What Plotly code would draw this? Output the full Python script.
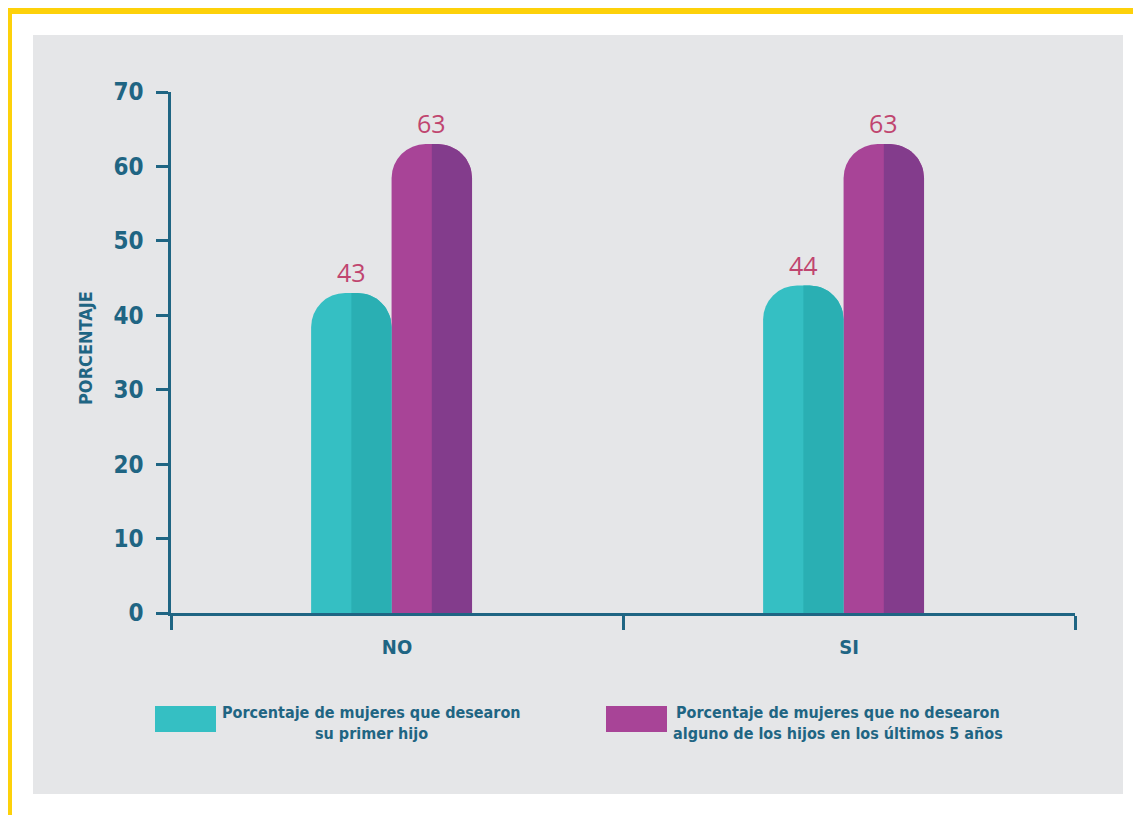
import numpy as np
import plotly.graph_objects as go

# ---- data ----
categories = ["NO", "SI"]
series_names = [
    "Porcentaje de mujeres que desearon su primer hijo",
    "Porcentaje de mujeres que no desearon alguno de los hijos en los últimos 5 años",
]
deseado = [43, 44]
no_deseado = [63, 63]
y_ticks = [0, 10, 20, 30, 40, 50, 60, 70]

# ---- styling ----
OFF = 8  # page body margin compensation
W, H = 1141 - OFF, 815 - OFF
L, R, T, B = 171 - OFF, 66, 92 - OFF, 202
PW, PH = W - L - R, H - T - B
YMAX = 70
AXIS_COLOR = "#1F6583"
FONT = "DejaVu Sans Condensed, sans-serif"
light = ["#35BFC3", "#A84497"]
dark = ["#2AAFB3", "#833C8C"]
BAR_W = 0.178
SHIFT = -0.012
RADIUS_PX = 34

def px_x(px):
    return (px - OFF - L) / PW

def px_y(py):
    return (H - B - (py - OFF)) / PH

x_idx = list(range(len(categories)))
fig = go.Figure()

rx = RADIUS_PX * 2.0 / PW
ry = RADIUS_PX * YMAX / PH
theta = np.linspace(np.pi / 2, 0, 20)

for s, (vals, off) in enumerate([(deseado, -BAR_W + SHIFT), (no_deseado, SHIFT)]):
    fig.add_trace(go.Bar(
        x=x_idx, y=vals, width=BAR_W, offset=off, name=series_names[s],
        marker=dict(color=light[s], line=dict(width=0), cornerradius=RADIUS_PX),
        showlegend=False, hoverinfo="y",
    ))
    # darker right half of each bar
    for xi, v in zip(x_idx, vals):
        xc = xi + off + BAR_W / 2
        xr = xi + off + BAR_W
        cx, cy = xr - rx, v - ry
        xs = [xc, xc] + list(cx + rx * np.cos(theta)) + [xr, xc]
        ys = [0, v] + list(cy + ry * np.sin(theta)) + [0, 0]
        fig.add_trace(go.Scatter(
            x=xs, y=ys, fill="toself", fillcolor=dark[s], mode="lines",
            line=dict(width=0), hoverinfo="skip", showlegend=False,
        ))
        fig.add_annotation(
            x=xc, y=v, text=str(v), showarrow=False,
            yanchor="bottom", yshift=2,
            font=dict(family="Open Sans, sans-serif", size=25, color="#C0456F"),
        )

shapes = [
    # gray panel
    dict(type="rect", xref="paper", yref="paper", x0=px_x(33), x1=px_x(1123),
         y0=px_y(794), y1=px_y(35), fillcolor="#E5E6E8", line=dict(width=0), layer="below"),
    # yellow frame
    dict(type="rect", xref="paper", yref="paper", x0=px_x(9), x1=px_x(1160),
         y0=px_y(818), y1=px_y(11), fillcolor="rgba(0,0,0,0)",
         line=dict(color="#FDD10A", width=6), layer="below"),
    # legend swatches
    dict(type="rect", xref="paper", yref="paper", x0=px_x(155), x1=px_x(216),
         y0=px_y(732), y1=px_y(706), fillcolor=light[0], line=dict(width=0)),
    dict(type="rect", xref="paper", yref="paper", x0=px_x(606), x1=px_x(667),
         y0=px_y(732), y1=px_y(706), fillcolor=light[1], line=dict(width=0)),
]
fig.update_layout(shapes=shapes)

legend_lines = [
    ("Porcentaje de mujeres que desearon", 371, 712),
    ("su primer hijo", 371, 733),
    ("Porcentaje de mujeres que no desearon", 838, 712),
    ("alguno de los hijos en los últimos 5 años", 838, 733),
]
for txt, cx, cy in legend_lines:
    fig.add_annotation(x=px_x(cx), y=px_y(cy), xref="paper", yref="paper", text=f"<b>{txt}</b>",
                       showarrow=False, xanchor="center", yanchor="middle",
                       font=dict(family=FONT, size=16, color=AXIS_COLOR))

fig.add_annotation(x=px_x(85), y=px_y(348), xref="paper", yref="paper", text="<b>PORCENTAJE</b>",
                   textangle=-90, showarrow=False, xanchor="center", yanchor="middle",
                   font=dict(family=FONT, size=18, color=AXIS_COLOR))

fig.update_layout(
    width=W, height=H,
    margin=dict(l=L, r=R, t=T, b=B, pad=0),
    paper_bgcolor="white", plot_bgcolor="rgba(0,0,0,0)",
    barmode="overlay",
    font=dict(family=FONT, color=AXIS_COLOR),
    xaxis=dict(
        range=[-0.5, len(categories) - 0.5], tickvals=x_idx,
        ticktext=[f"<b>{c}</b>" for c in categories], ticks="",
        showline=True, linecolor=AXIS_COLOR, linewidth=2.5, showgrid=False, zeroline=False,
        tickfont=dict(family=FONT, size=20, color=AXIS_COLOR), ticklabelstandoff=14,
        minor=dict(tickvals=[i - 0.5 for i in range(len(categories) + 1)], ticks="outside",
                   ticklen=14, tickwidth=2.5, tickcolor=AXIS_COLOR, showgrid=False),
    ),
    yaxis=dict(
        range=[0, YMAX], tickvals=y_ticks, ticktext=[f"<b>{t}</b>" for t in y_ticks],
        ticks="outside", ticklen=12, tickwidth=2.5, tickcolor=AXIS_COLOR,
        showline=True, linecolor=AXIS_COLOR, linewidth=2.5, showgrid=False, zeroline=False,
        tickfont=dict(family=FONT, size=24, color=AXIS_COLOR), ticklabelstandoff=8,
    ),
)

fig.write_html("out.html")
